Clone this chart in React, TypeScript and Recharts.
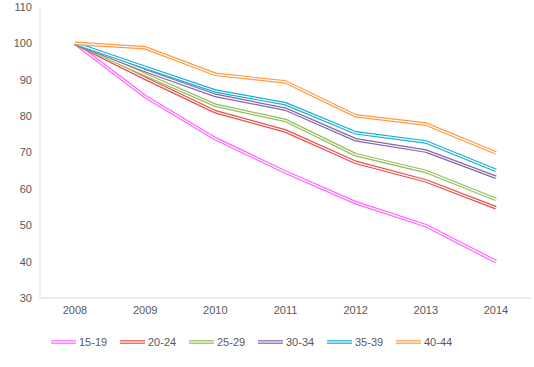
import { LineChart, Line, XAxis, YAxis, Legend } from "recharts";

const years = ["2008", "2009", "2010", "2011", "2012", "2013", "2014"];
const yTicks = [30, 40, 50, 60, 70, 80, 90, 100, 110];

const age1519 = [100, 85.4, 73.8, 64.6, 56.2, 49.9, 40.0];
const age2024 = [100, 90.4, 81.2, 75.9, 67.3, 62.2, 54.8];
const age2529 = [100, 91.4, 83.0, 78.8, 69.4, 64.8, 57.1];
const age3034 = [100, 92.5, 85.7, 81.9, 73.5, 70.4, 63.2];
const age3539 = [100, 93.4, 86.9, 83.4, 75.4, 72.9, 65.1];
const age4044 = [100, 98.8, 91.5, 89.4, 80.1, 77.8, 69.9];

const series = [
  { key: "15-19", values: age1519, color: "#FF66FF" },
  { key: "20-24", values: age2024, color: "#E5504C" },
  { key: "25-29", values: age2529, color: "#93BE5A" },
  { key: "30-34", values: age3034, color: "#8766A8" },
  { key: "35-39", values: age3539, color: "#16AED0" },
  { key: "40-44", values: age4044, color: "#FF9B44" },
];

const data = years.map((year, i) => {
  const row: Record<string, string | number> = { year };
  series.forEach((s) => {
    row[s.key] = s.values[i];
  });
  return row;
});

const font = "'Liberation Sans', Arial, sans-serif";

function DoubleSwatch({ color }: { color: string }) {
  return (
    <svg width={25} height={6} style={{ display: "block" }}>
      <line x1={0} y1={3} x2={25} y2={3} stroke={color} strokeWidth={3.6} />
      <line x1={0} y1={3} x2={25} y2={3} stroke="#fff" strokeWidth={1.2} />
    </svg>
  );
}

function LegendBox() {
  return (
    <div style={{ display: "flex", paddingLeft: 51, height: 20, alignItems: "center" }}>
      {series.map((s) => (
        <div key={s.key} style={{ display: "flex", alignItems: "center", width: 69 }}>
          <DoubleSwatch color={s.color} />
          <span style={{ marginLeft: 3, fontSize: 11, color: "#595959", fontFamily: font }}>{s.key}</span>
        </div>
      ))}
    </div>
  );
}

export default function App() {
  return (
    <div style={{ position: "absolute", left: 0, top: 0, background: "#fff" }}>
      <LineChart width={534} height={367} data={data} margin={{ top: 7, right: 3, left: 0, bottom: 15 }}>
        <XAxis
          dataKey="year"
          tickLine={false}
          axisLine={{ stroke: "#D9D9D9" }}
          tick={{ fill: "#595959", fontSize: 11, fontFamily: font }}
          height={34}
          interval={0}
          padding={{ left: 35, right: 35 }}
        />
        <YAxis
          domain={[30, 110]}
          ticks={yTicks}
          tickLine={false}
          axisLine={{ stroke: "#D9D9D9" }}
          tick={{ fill: "#595959", fontSize: 11, fontFamily: font }}
          width={40}
          interval={0}
        />
        {series.flatMap((s) => [
          <Line
            key={s.key}
            dataKey={s.key}
            stroke={s.color}
            strokeWidth={3.6}
            dot={false}
            isAnimationActive={false}
          />,
          <Line
            key={s.key + "-inner"}
            dataKey={s.key}
            stroke="#fff"
            strokeWidth={1.2}
            dot={false}
            legendType="none"
            isAnimationActive={false}
          />,
        ])}
        <Legend verticalAlign="bottom" content={() => <LegendBox />} />
      </LineChart>
    </div>
  );
}
